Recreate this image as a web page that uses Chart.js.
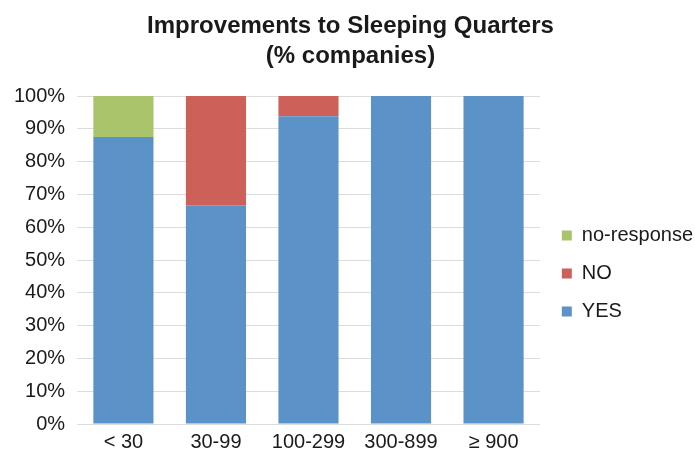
<!DOCTYPE html>
<html>
<head>
<meta charset="utf-8">
<script src="https://cdn.jsdelivr.net/npm/chart.js@4.4.1/dist/chart.umd.min.js"></script>
<style>
  html, body { margin: 0; padding: 0; background: #ffffff; }
  #wrap { width: 695px; height: 454px; }
</style>
</head>
<body>
<div id="wrap"><canvas id="chart" width="695" height="454"></canvas></div>
<script>
// Company size groups
const categories = ['< 30', '30-99', '100-299', '300-899', '\u2265 900'];
// Share of companies (%) per answer
const yesValues = [87.5, 66.7, 93.8, 100, 100];
const noValues = [0, 33.3, 6.2, 0, 0];
const noResponseValues = [12.5, 0, 0, 0, 0];
const yTicks = [0, 10, 20, 30, 40, 50, 60, 70, 80, 90, 100];

const FONT = '"Liberation Sans", Arial, Helvetica, sans-serif';

// Nudges the legend block so it sits lower beside the plot
const legendShift = {
  id: 'legendShift',
  afterLayout(chart) {
    const lg = chart.legend;
    if (!lg) return;
    lg.top += 42;
    lg.bottom += 42;
    lg.left += 4;
    lg.right += 4;
  }
};

new Chart(document.getElementById('chart'), {
  type: 'bar',
  data: {
    labels: categories,
    datasets: [
      { label: 'YES', data: yesValues, backgroundColor: '#5B93C9', borderWidth: 0 },
      { label: 'NO', data: noValues, backgroundColor: '#CD6058', borderWidth: 0 },
      { label: 'no-response', data: noResponseValues, backgroundColor: '#A9C46A', borderWidth: 0 }
    ]
  },
  plugins: [legendShift],
  options: {
    responsive: false,
    animation: false,
    layout: { padding: { top: 10, right: -4, bottom: 1, left: 2 } },
    datasets: { bar: { categoryPercentage: 1.0, barPercentage: 0.65 } },
    plugins: {
      title: {
        display: true,
        text: ['Improvements to Sleeping Quarters', '(% companies)'],
        color: '#1a1a1a',
        font: { family: FONT, size: 24, weight: 'bold', lineHeight: 1.25 },
        padding: { top: 1, bottom: 25 }
      },
      legend: {
        position: 'right',
        reverse: true,
        labels: {
          color: '#1a1a1a',
          font: { family: FONT, size: 20 },
          boxWidth: 10,
          boxHeight: 10,
          padding: 18
        }
      },
      tooltip: { enabled: false }
    },
    scales: {
      x: {
        stacked: true,
        grid: { display: false, drawTicks: false },
        border: { display: false },
        ticks: { color: '#1a1a1a', font: { family: FONT, size: 20 }, padding: 6 },
        afterFit: (axis) => { axis.height = 29; }
      },
      y: {
        stacked: true,
        min: 0,
        max: 100,
        afterBuildTicks: (axis) => { axis.ticks = yTicks.map(v => ({ value: v })); },
        grid: { color: '#DCDCDC', lineWidth: 1, drawTicks: false },
        border: { display: false },
        ticks: {
          color: '#1a1a1a',
          font: { family: FONT, size: 20 },
          padding: 12,
          callback: (v) => v + '%'
        }
      }
    }
  }
});
</script>
</body>
</html>
